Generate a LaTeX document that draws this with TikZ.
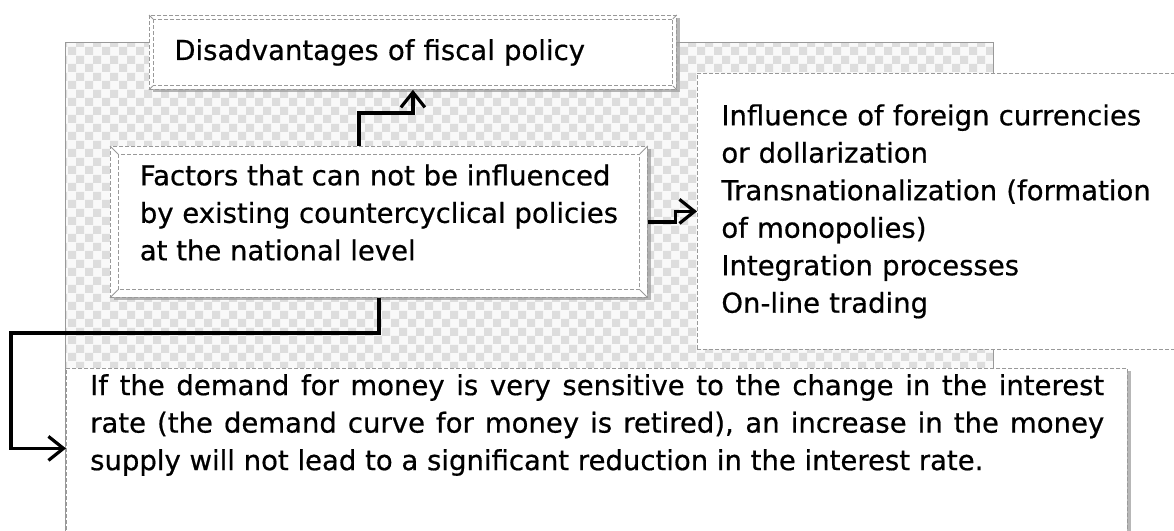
\documentclass[tikz,border=0pt]{standalone}
\usepackage{fontspec}
\setmainfont{DejaVu Sans}
\newfontfamily\dinfont{DejaVu Sans}[FakeBold=0.6]
\usetikzlibrary{arrows.meta,shadows,patterns.meta}
\tikzdeclarepattern{
  name=checks,
  type=uncolored,
  bottom left={(0pt,0pt)},
  top right={(17pt,17pt)},
  tile size={(17pt,17pt)},
  code={
    \fill (0pt,0pt) rectangle (8.5pt,8.5pt);
    \fill (8.5pt,8.5pt) rectangle (17pt,17pt);
  }
}
\tikzset{
  panel/.style={draw=gray!80,dash pattern=on 4pt off 2pt,line width=0.8pt,fill=white,anchor=north west,inner sep=0pt},
  boxtext/.style={font=\dinfont\fontsize{27.5}{37.5}\selectfont},
  sunk/.style={drop shadow={shadow xshift=4pt,shadow yshift=-3pt,fill=gray!80,opacity=.7}},
  arr/.style={line width=3.2pt,-{Straight Barb[length=15pt,width=24pt]}}
}
\begin{document}
\begin{tikzpicture}[x={(1pt,0)},y={(0,1pt)}]
      \useasboundingbox (0,0) rectangle (1174,-530);
      \clip (0,0) rectangle (1174,-530);
      \fill[gray!5] (65,-42) rectangle (993,-560);
      \fill[pattern=checks,pattern color=gray!27] (65,-42) rectangle (993,-560);
      \draw[gray!80,line width=0.9pt] (65,-560) |- (993,-42) -- (993,-560);
      \node[panel,boxtext,sunk,minimum width=527,minimum height=74,text width=477,inner xsep=25,align=left]
        (dis) at (149,-15) {Disadvantages of fiscal policy};
      \node[panel,boxtext,sunk,minimum width=537,minimum height=151,align=left,text depth=19]
        (fac) at (110,-146) {Factors that can not be influenced\\by existing countercyclical policies\\at the national level};
      \node[panel,boxtext,minimum width=503,minimum height=276,text width=455,inner xsep=24,align=left]
        (rbox) at (697,-73) {Influence of foreign currencies\\or dollarization\\Transnationalization (formation\\of monopolies)\\Integration processes\\On-line trading};
      \node[panel,sunk,minimum width=1061,minimum height=192] (bot) at (66,-368) {};
      \node[boxtext,anchor=north west,inner sep=0pt,text width=1014,align=justify]
        (bottxt) at ([shift={(24,-6)}]bot.north west) {If the demand for money is very sensitive to the change in the interest\linebreak
        rate (the demand curve for money is retired), an increase in the money\linebreak
        supply will not lead to a significant reduction in the interest rate.};
      \foreach \n/\d in {dis/4,fac/8}
      { \draw[gray!80,dash pattern=on 4pt off 2pt,line width=0.8pt]
          ([shift={(\d,-\d)}]\n.north west) rectangle ([shift={(-\d,\d)}]\n.south east);
        \draw[gray!80,line width=0.8pt] (\n.north west) -- ++(\d,-\d) (\n.south west) -- ++(\d,\d)
          (\n.north east) -- ++(-\d,-\d) (\n.south east) -- ++(-\d,\d);
      }
      \coordinate (elbow) at (11,-333);
      \draw[arr] ([xshift=-20pt]fac.north) -- ++(0,33) -| (dis.south);
      \draw[arr] (fac.east) -- ++(28,0) |- (rbox.west);
      \draw[arr] (fac.south) |- (elbow) |- ([yshift=16pt]bot.west);
\end{tikzpicture}
\end{document}
